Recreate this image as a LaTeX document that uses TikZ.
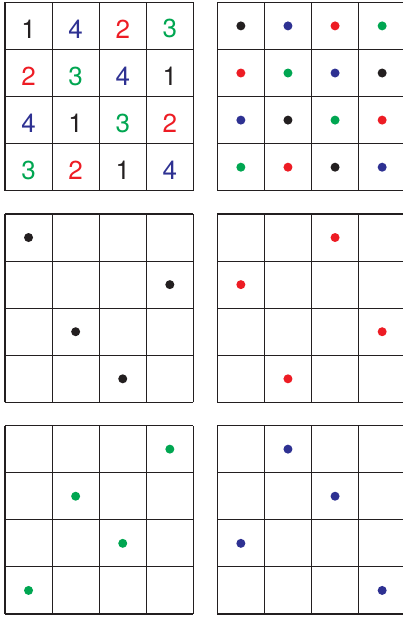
\documentclass[tikz,border=0pt]{standalone}
\usepackage{fontspec}
\setsansfont{TeX Gyre Heros}

\definecolor{sq1}{RGB}{35,31,32}
\definecolor{sq2}{RGB}{237,28,36}
\definecolor{sq3}{RGB}{0,166,81}
\definecolor{sq4}{RGB}{46,49,146}

\begin{document}
\begin{tikzpicture}[
    x=47.1pt, y=47.1pt,
    board/.style={draw=sq1, line width=1.1pt},
    digit/.style={font=\sffamily\fontsize{26}{26}\selectfont, inner sep=0pt, yshift=-3pt},
    dot/.style={circle, fill=#1, inner sep=0pt, minimum size=9pt}
]
\useasboundingbox (0,0) rectangle (8.556,13.1);
\clip (0,0) rectangle (8.556,13.1);

% top-left corners of the six boards
\coordinate (sq)  at (0.106,13.05);
\coordinate (lat) at (4.614,13.05);
\coordinate (g1)  at (0.106,8.557);
\coordinate (g2)  at (4.614,8.557);
\coordinate (g3)  at (0.106,4.064);
\coordinate (g4)  at (4.614,4.064);

\foreach \g in {sq,lat,g1,g2,g3,g4}
  \draw[board, shift={(\g)}] (0,0) grid[step=1] (4,-4);

% the square: digits, coloured dots, and one board per symbol
\foreach \r/\rowlist in {1/{1,4,2,3}, 2/{2,3,4,1}, 3/{4,1,3,2}, 4/{3,2,1,4}}
  \foreach \v [count=\c] in \rowlist {
    \node[digit, text=sq\v] (n-\r-\c) at ([shift={(\c-0.5,-\r+0.5)}]sq) {\v};
    \node[dot=sq\v] (l-\r-\c) at ([shift={(\c-0.5,-\r+0.5)}]lat) {};
    \node[dot=sq\v] (p-\r-\c) at ([shift={(\c-0.5,-\r+0.5)}]g\v) {};
  }
\end{tikzpicture}
\end{document}
